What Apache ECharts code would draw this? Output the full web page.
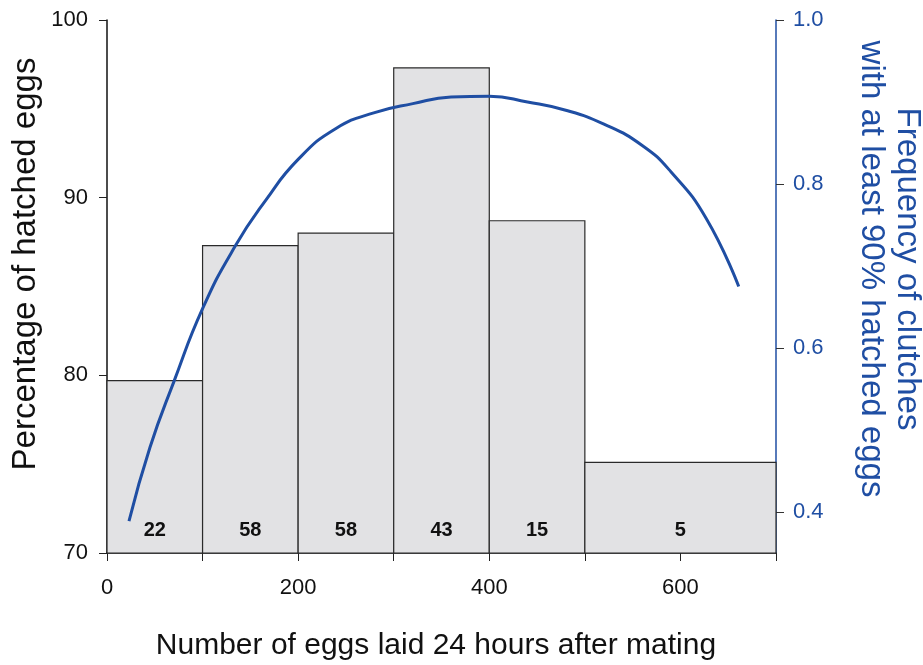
<!DOCTYPE html>
<html>
<head>
<meta charset="utf-8">
<script src="https://cdn.jsdelivr.net/npm/echarts@6/dist/echarts.min.js"></script>
<style>
html,body{margin:0;padding:0;background:#fff;}
#c{width:923px;height:665px;}
</style>
</head>
<body>
<div id="c"></div>
<script>
// Histogram bins (number of eggs laid 24 h after mating)
var binStart = [0, 100, 200, 300, 400, 500];
var binEnd = [100, 200, 300, 400, 500, 700];
// Mean percentage of hatched eggs per bin
var hatchedPct = [79.7, 87.3, 88.0, 97.3, 88.7, 75.1];
// Number of clutches per bin
var clutchCount = [22, 58, 58, 43, 15, 5];
// Fitted curve: frequency of clutches with at least 90% hatched eggs
var fitX = [23, 45, 70, 100, 134, 166, 200, 240, 280, 320, 360, 400, 440, 480, 520, 560, 590, 627, 661];
var fitY = [0.389, 0.479, 0.559, 0.648, 0.724, 0.780, 0.830, 0.868, 0.887, 0.898, 0.906, 0.907, 0.900, 0.890, 0.873, 0.847, 0.815, 0.758, 0.675];
// Tick labels
var xTickLabels = [0, 200, 400, 600];
var rightTicks = [0.4, 0.6, 0.8, 1.0];

var FONT = 'Liberation Sans, Arial, sans-serif';
var BLUE = '#1f4ea3';

var barData = binStart.map(function (s, i) { return [s, binEnd[i], hatchedPct[i], clutchCount[i]]; });
var fitData = fitX.map(function (x, i) { return [x, fitY[i]]; });

var chart = echarts.init(document.getElementById('c'), null, {renderer: 'canvas'});
chart.setOption({
  animation: false,
  backgroundColor: '#fff',
  grid: {left: 107, right: 147, top: 20, bottom: 112, outerBoundsMode: 'none', containLabel: false},
  graphic: [{
    type: 'text', x: 26, y: 264, rotation: Math.PI / 2,
    style: {text: 'Percentage of hatched eggs', fill: '#111', font: '33px ' + FONT, align: 'center', verticalAlign: 'middle'}
  }, {
    type: 'text', x: 889, y: 269, rotation: -Math.PI / 2,
    style: {text: 'Frequency of clutches\nwith at least 90% hatched eggs', fill: BLUE, font: '33px ' + FONT,
      lineHeight: 36, align: 'center', verticalAlign: 'middle'}
  }, {
    type: 'text', x: 436, y: 646,
    style: {text: 'Number of eggs laid 24 hours after mating', fill: '#111', font: '30px ' + FONT, align: 'center', verticalAlign: 'middle'}
  }],
  xAxis: {
    type: 'value', min: 0, max: 700, interval: 100,
    axisLine: {lineStyle: {color: '#111', width: 1.5}},
    axisTick: {show: true, length: 8, lineStyle: {color: '#222', width: 1}},
    axisLabel: {
      color: '#111', fontFamily: FONT, fontSize: 22, margin: 24,
      formatter: function (v) { return xTickLabels.indexOf(v) >= 0 ? String(v) : ''; }
    },
    splitLine: {show: false}
  },
  yAxis: [{
    type: 'value', min: 70, max: 100, interval: 10,
    axisLine: {show: true, lineStyle: {color: '#111', width: 1.5}},
    axisTick: {show: true, length: 8, lineStyle: {color: '#222', width: 1}},
    axisLabel: {color: '#111', fontFamily: FONT, fontSize: 22, margin: 19},
    splitLine: {show: false}
  }, {
    type: 'value', min: 0.35, max: 1.0, position: 'right',
    axisLine: {show: true, lineStyle: {color: BLUE, width: 1.5}},
    axisTick: {show: true, length: 8, customValues: rightTicks, lineStyle: {color: '#333', width: 1}},
    axisLabel: {
      color: BLUE, fontFamily: FONT, fontSize: 22, margin: 17, customValues: rightTicks,
      formatter: function (v) { return v.toFixed(1); }
    },
    splitLine: {show: false}
  }],
  series: [{
    type: 'custom',
    yAxisIndex: 0,
    data: barData,
    encode: {x: [0, 1], y: 2},
    z: 1,
    renderItem: function (params, api) {
      var p0 = api.coord([api.value(0), api.value(2)]);
      var p1 = api.coord([api.value(1), 70]);
      var mid = api.coord([(api.value(0) + api.value(1)) / 2, 70]);
      return {
        type: 'group',
        children: [{
          type: 'rect',
          shape: {x: p0[0], y: p0[1], width: p1[0] - p0[0], height: p1[1] - p0[1]},
          style: {fill: '#e2e2e4', stroke: '#2a2a2a', lineWidth: 1.2}
        }, {
          type: 'text',
          x: mid[0], y: mid[1] - 23,
          style: {
            text: String(api.value(3)), fill: '#111',
            font: 'bold 20px ' + FONT, align: 'center', verticalAlign: 'middle'
          }
        }]
      };
    }
  }, {
    type: 'line',
    yAxisIndex: 1,
    data: fitData,
    smooth: 0.5,
    showSymbol: false,
    z: 3,
    lineStyle: {color: BLUE, width: 3}
  }]
});
</script>
</body>
</html>
